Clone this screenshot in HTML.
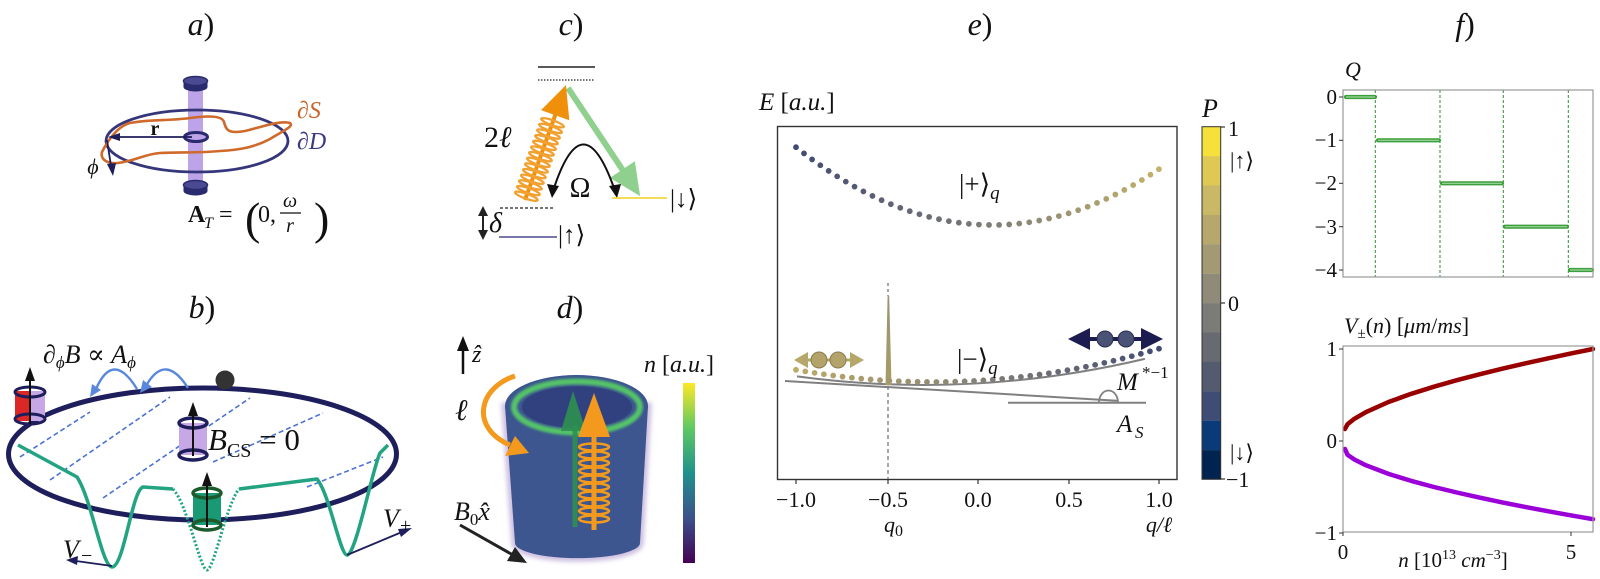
<!DOCTYPE html>
<html><head><meta charset="utf-8">
<style>
html,body{margin:0;padding:0;background:#fff;}
svg{display:block;}
text{font-family:"Liberation Serif","DejaVu Serif","DejaVu Sans",serif;fill:#111;}
.i{font-style:italic;}
.b{font-weight:bold;}
</style></head><body>
<svg width="1600" height="579" viewBox="0 0 1600 579" xmlns="http://www.w3.org/2000/svg">
<defs>
  <linearGradient id="gu" gradientUnits="userSpaceOnUse" x1="796" y1="0" x2="1159" y2="0">
    <stop offset="0" stop-color="#434b72"/>
    <stop offset="0.54" stop-color="#7e7d78"/>
    <stop offset="1" stop-color="#c3b26a"/>
  </linearGradient>
  <linearGradient id="gl" gradientUnits="userSpaceOnUse" x1="796" y1="0" x2="1159" y2="0">
    <stop offset="0" stop-color="#bcab68"/>
    <stop offset="0.5" stop-color="#858278"/>
    <stop offset="1" stop-color="#434b73"/>
  </linearGradient>
  <linearGradient id="vir" x1="0" y1="1" x2="0" y2="0">
    <stop offset="0" stop-color="#440154"/>
    <stop offset="0.25" stop-color="#3b528b"/>
    <stop offset="0.5" stop-color="#21918c"/>
    <stop offset="0.75" stop-color="#5ec962"/>
    <stop offset="1" stop-color="#fde725"/>
  </linearGradient>
  <linearGradient id="spk" x1="0" y1="0" x2="0" y2="1">
    <stop offset="0" stop-color="#9a9478"/>
    <stop offset="1" stop-color="#a89c62"/>
  </linearGradient>
  <filter id="blur" x="-20%" y="-20%" width="140%" height="140%"><feGaussianBlur stdDeviation="2.5"/></filter>
  <filter id="blur1" x="-20%" y="-20%" width="140%" height="140%"><feGaussianBlur stdDeviation="1.2"/></filter>
</defs>

<!-- ================= Panel a ================= -->
<text x="201" y="35" font-size="32" text-anchor="middle"><tspan class="i">a</tspan>)</text>
<rect x="188" y="84" width="15" height="102" fill="#bda4e8"/>
<ellipse cx="197" cy="141" rx="91" ry="31" fill="none" stroke="#35357a" stroke-width="2.8"/>
<path d="M102,152 C108,140 118,126 130,123 C150,119 170,121 190,118 C205,116 222,115 224,122 C226,130 228,134 245,131 C262,127 280,120 290,123 C294,126 285,130 270,139 C255,147 240,150 220,151 C200,153 180,152 160,153 C145,154 135,161 118,163 C108,164 100,160 102,152 Z" fill="none" stroke="#cf6a2a" stroke-width="2.6"/>
<ellipse cx="195.5" cy="87" rx="12" ry="4.5" fill="#2a2a6e"/>
<rect x="183.5" y="81" width="24" height="6" fill="#2a2a6e"/>
<ellipse cx="195.5" cy="81" rx="12" ry="4.5" fill="#4a4a92" stroke="#2a2a6e" stroke-width="1.5"/>
<ellipse cx="196" cy="137" rx="11.5" ry="4.5" fill="#bda4e8" stroke="#2a2a6e" stroke-width="3"/>
<ellipse cx="195.5" cy="191" rx="12" ry="4.5" fill="#2a2a6e"/>
<rect x="183.5" y="185" width="24" height="6" fill="#2a2a6e"/>
<ellipse cx="195.5" cy="185" rx="12" ry="4.5" fill="#4a4a92" stroke="#2a2a6e" stroke-width="1.5"/>
<line x1="192" y1="137" x2="118" y2="137" stroke="#1e1e5c" stroke-width="1.8"/>
<polygon points="108,137 120,133 120,141" fill="#1e1e5c"/>
<text x="155" y="135" font-size="20" class="b" text-anchor="middle">r</text>
<line x1="107" y1="140" x2="111" y2="166" stroke="#1e1e5c" stroke-width="1.8"/>
<polygon points="113,176 107,164 116,163" fill="#1e1e5c"/>
<text x="93" y="174" font-size="22" class="i" text-anchor="middle">ϕ</text>
<text x="297" y="118" font-size="24" style="fill:#c8652a">∂<tspan class="i">S</tspan></text>
<text x="297" y="149" font-size="24" style="fill:#3a3a80">∂<tspan class="i">D</tspan></text>
<text x="188" y="222" font-size="24" class="b">A</text>
<text x="204" y="228" font-size="16" class="i">T</text>
<text x="219" y="222" font-size="24">=</text>
<text x="245" y="234" font-size="46">(</text>
<text x="258" y="222" font-size="24">0,</text>
<text x="290" y="207" font-size="20" class="i" text-anchor="middle">ω</text>
<line x1="280" y1="213" x2="301" y2="213" stroke="#111" stroke-width="1.2"/>
<text x="290" y="232" font-size="20" class="i" text-anchor="middle">r</text>
<text x="314" y="234" font-size="46">)</text>

<!-- ================= Panel b ================= -->
<text x="202" y="318" font-size="32" text-anchor="middle"><tspan class="i">b</tspan>)</text>
<g stroke="#4a72d4" stroke-width="1.6" stroke-dasharray="5,3" fill="none">
  <line x1="20" y1="457" x2="90" y2="412"/>
  <line x1="50" y1="480" x2="170" y2="397"/>
  <line x1="103" y1="498" x2="250" y2="398"/>
  <line x1="213" y1="462" x2="323" y2="413"/>
  <line x1="307" y1="487" x2="383" y2="457"/>
</g>
<ellipse cx="202.5" cy="454" rx="194" ry="66" fill="none" stroke="#1e1e5c" stroke-width="5"/>
<path d="M18,445 L77,477 C92,500 102,567 112,567 C124,567 132,490 143,487 L173,489" fill="none" stroke="#22a382" stroke-width="3.5" stroke-linejoin="round"/>
<path d="M173,489 C188,505 200,570 207,570 C214,570 226,505 239,489" fill="none" stroke="#22a382" stroke-width="3" stroke-dasharray="2,2"/>
<path d="M239,489 L317,479 C330,495 340,555 347,555 C356,555 372,470 380,453 L388,445" fill="none" stroke="#22a382" stroke-width="3.5" stroke-linejoin="round"/>
<line x1="112" y1="566" x2="76" y2="561" stroke="#1e1e5c" stroke-width="1.8"/>
<polygon points="66,560 78,556 77,565" fill="#1e1e5c"/>
<line x1="347" y1="555" x2="402" y2="532" stroke="#1e1e5c" stroke-width="1.8"/>
<polygon points="412,528 401,537 398,529" fill="#1e1e5c"/>
<text x="63" y="558" font-size="26" class="i">V</text><text x="81" y="562" font-size="20">−</text>
<text x="383" y="527" font-size="26" class="i">V</text><text x="400" y="532" font-size="20">+</text>
<path d="M188,388 Q165,352 146,386" fill="none" stroke="#5a88dc" stroke-width="2.4"/>
<polygon points="140,393 143,380 152,387" fill="#5a88dc"/>
<path d="M137,389 Q113,350 96,389" fill="none" stroke="#5a88dc" stroke-width="2.4"/>
<polygon points="90,397 92,384 101,390" fill="#5a88dc"/>
<circle cx="225" cy="380" r="9.5" fill="#333"/>
<text x="43" y="363" font-size="26">∂<tspan class="i" font-size="17" dy="5">ϕ</tspan><tspan class="i" dy="-5">B</tspan> ∝ <tspan class="i">A</tspan><tspan class="i" font-size="17" dy="5">ϕ</tspan></text>
<rect x="15" y="391" width="15" height="30" fill="#dd2626"/>
<rect x="30" y="391" width="15" height="30" fill="#c6a8e6"/>
<ellipse cx="30" cy="392" rx="15" ry="5" fill="none" stroke="#1e1e5c" stroke-width="3"/>
<ellipse cx="30" cy="419" rx="15" ry="5" fill="none" stroke="#1e1e5c" stroke-width="3"/>
<line x1="30" y1="424" x2="30" y2="378" stroke="#111" stroke-width="2"/>
<polygon points="30,367 25,381 35,381" fill="#111"/>
<rect x="179" y="423" width="28" height="32" fill="#c6a8e6"/>
<ellipse cx="193" cy="423" rx="14" ry="5" fill="none" stroke="#1e1e5c" stroke-width="3.5"/>
<ellipse cx="193" cy="455" rx="14" ry="5" fill="none" stroke="#1e1e5c" stroke-width="3.5"/>
<line x1="193" y1="456" x2="193" y2="414" stroke="#111" stroke-width="2"/>
<polygon points="193,402 188,416 198,416" fill="#111"/>
<text x="208" y="450" font-size="31"><tspan class="i">B</tspan><tspan font-size="20" dy="7">CS</tspan><tspan dy="-7"> = 0</tspan></text>
<rect x="193" y="493" width="28" height="32" fill="#1a9a74"/>
<ellipse cx="207" cy="493" rx="14" ry="5" fill="none" stroke="#1d5a2c" stroke-width="3.5"/>
<ellipse cx="207" cy="525" rx="14" ry="5" fill="none" stroke="#1d5a2c" stroke-width="3.5"/>
<line x1="207" y1="527" x2="207" y2="484" stroke="#111" stroke-width="2"/>
<polygon points="207,472 202,486 212,486" fill="#111"/>

<!-- ================= Panel c ================= -->
<text x="571" y="35" font-size="32" text-anchor="middle"><tspan class="i">c</tspan>)</text>
<line x1="538" y1="67" x2="595" y2="67" stroke="#222" stroke-width="1.5"/>
<line x1="538" y1="80" x2="595" y2="80" stroke="#222" stroke-width="1.3" stroke-dasharray="1.5,1.5"/>
<g transform="translate(568,88) rotate(56.3)">
  <line x1="0" y1="0" x2="102" y2="0" stroke="#8fd08f" stroke-width="6"/>
  <polygon points="98,-15 130,0 98,15" fill="#8fd08f"/>
</g>
<g transform="translate(525,200) rotate(-70.4)">
  <line x1="0" y1="0" x2="96" y2="0" stroke="#f0900a" stroke-width="4"/>
  <polygon points="90,-15 122,0 90,15" fill="#f0900a"/>
  <g fill="none" stroke="#f2a030" stroke-width="2.3">
    <ellipse cx="4" cy="0" rx="2.5" ry="12"/><ellipse cx="10" cy="0" rx="2.5" ry="12"/>
    <ellipse cx="16" cy="0" rx="2.5" ry="12"/><ellipse cx="22" cy="0" rx="2.5" ry="12"/>
    <ellipse cx="28" cy="0" rx="2.5" ry="12"/><ellipse cx="34" cy="0" rx="2.5" ry="12"/>
    <ellipse cx="40" cy="0" rx="2.5" ry="12"/><ellipse cx="46" cy="0" rx="2.5" ry="12"/>
    <ellipse cx="52" cy="0" rx="2.5" ry="12"/><ellipse cx="58" cy="0" rx="2.5" ry="12"/>
    <ellipse cx="64" cy="0" rx="2.5" ry="12"/><ellipse cx="70" cy="0" rx="2.5" ry="12"/>
    <ellipse cx="76" cy="0" rx="2.5" ry="12"/><ellipse cx="82" cy="0" rx="2.5" ry="12"/>
  </g>
</g>
<path d="M554,188 Q583,101 614,188" fill="none" stroke="#111" stroke-width="2"/>
<polygon points="552,198 547,184 559,186" fill="#111"/>
<polygon points="617,198 609,186 621,184" fill="#111"/>
<text x="580" y="197" font-size="28" text-anchor="middle">Ω</text>
<text x="484" y="147" font-size="30">2<tspan class="i">ℓ</tspan></text>
<line x1="500" y1="208" x2="555" y2="208" stroke="#222" stroke-width="1.3" stroke-dasharray="3,2"/>
<line x1="612" y1="198" x2="667" y2="198" stroke="#f0d020" stroke-width="1.6"/>
<line x1="499" y1="237" x2="557" y2="237" stroke="#4a4a90" stroke-width="1.5"/>
<text x="670" y="207" font-size="25">|↓⟩</text>
<text x="558" y="243" font-size="25">|↑⟩</text>
<line x1="483" y1="214" x2="483" y2="232" stroke="#222" stroke-width="2"/>
<polygon points="483,206 478,216 488,216" fill="#222"/>
<polygon points="483,240 478,230 488,230" fill="#222"/>
<text x="489" y="232" font-size="28" class="i">δ</text>

<!-- ================= Panel d ================= -->
<text x="570" y="318" font-size="32" text-anchor="middle"><tspan class="i">d</tspan>)</text>
<path d="M505,406 L515,543 A62,15 0 0 0 640,543 L648,406 Z" fill="none" stroke="#9a7ac0" stroke-width="7" opacity="0.5" filter="url(#blur)"/>
<path d="M505,406 L515,543 A62,15 0 0 0 640,543 L648,406 Z" fill="#3d5690"/>
<ellipse cx="576.5" cy="406" rx="71.5" ry="31" fill="#3b5590"/>
<ellipse cx="577" cy="407" rx="55" ry="21" fill="#31417f"/>
<ellipse cx="577" cy="407" rx="63" ry="25.5" fill="none" stroke="#55c468" stroke-width="6" filter="url(#blur1)"/>
<line x1="575" y1="527" x2="575" y2="425" stroke="#2e9050" stroke-width="5" opacity="0.9"/>
<polygon points="573,391 561,431 586,431" fill="#2e9050" opacity="0.9"/>
<line x1="594" y1="530" x2="594" y2="430" stroke="#f39a1e" stroke-width="5"/>
<polygon points="594,393 578,437 610,437" fill="#f39a1e"/>
<g fill="none" stroke="#f39a1e" stroke-width="2.5">
  <ellipse cx="594" cy="447" rx="15" ry="3.5"/><ellipse cx="594" cy="455" rx="15" ry="3.5"/>
  <ellipse cx="594" cy="463" rx="15" ry="3.5"/><ellipse cx="594" cy="471" rx="15" ry="3.5"/>
  <ellipse cx="594" cy="479" rx="15" ry="3.5"/><ellipse cx="594" cy="487" rx="15" ry="3.5"/>
  <ellipse cx="594" cy="495" rx="15" ry="3.5"/><ellipse cx="594" cy="503" rx="15" ry="3.5"/>
  <ellipse cx="594" cy="511" rx="15" ry="3.5"/><ellipse cx="594" cy="519" rx="15" ry="3.5"/>
</g>
<line x1="463" y1="374" x2="463" y2="348" stroke="#111" stroke-width="2.5"/>
<polygon points="463,336 457,351 469,351" fill="#111"/>
<text x="472" y="362" font-size="24" class="i">ẑ</text>
<path d="M515,376 C478,388 470,428 510,445" fill="none" stroke="#f39a1e" stroke-width="5"/>
<polygon points="529,453 505,456 515,436" fill="#f39a1e"/>
<text x="455" y="420" font-size="30" class="i">ℓ</text>
<line x1="460" y1="525" x2="513" y2="555" stroke="#222" stroke-width="3"/>
<polygon points="527,563 507,561 515,547" fill="#222"/>
<text x="454" y="520" font-size="26"><tspan class="i">B</tspan><tspan font-size="17" dy="5">0</tspan><tspan class="i" dy="-5">x̂</tspan></text>
<rect x="683" y="383" width="12" height="180" fill="url(#vir)"/>
<text x="644" y="372" font-size="24"><tspan class="i">n</tspan> [<tspan class="i">a.u.</tspan>]</text>

<!-- ================= Panel e ================= -->
<text x="980" y="35" font-size="32" text-anchor="middle"><tspan class="i">e</tspan>)</text>
<text x="759" y="110" font-size="25"><tspan class="i">E</tspan> [<tspan class="i">a.u.</tspan>]</text>
<rect x="777.5" y="126.5" width="399.5" height="353" fill="none" stroke="#333" stroke-width="1.4"/>
<line x1="888" y1="283" x2="888" y2="296" stroke="#777" stroke-width="1.3" stroke-dasharray="3,3"/>
<line x1="888" y1="386" x2="888" y2="479" stroke="#777" stroke-width="1.3" stroke-dasharray="4,3"/>
<line x1="785" y1="381" x2="1117" y2="400.7" stroke="#808080" stroke-width="2"/>
<line x1="1008" y1="402.7" x2="1146" y2="402.7" stroke="#808080" stroke-width="2"/>
<path d="M1099,402.5 A9.5,12 0 0 1 1118,402.5" fill="none" stroke="#808080" stroke-width="1.8"/>
<path d="M797,376.4 Q971,399.9 1145,358.8" fill="none" stroke="#808080" stroke-width="2"/>
<polygon points="887.6,296 889.2,296 891.5,385 885.5,385" fill="url(#spk)"/>
<path d="M796,147.2 Q977.5,290.9 1159,169.1" fill="none" stroke="url(#gu)" stroke-width="5.8" stroke-linecap="round" stroke-dasharray="0 1" pathLength="39"/>
<path d="M796,369.8 Q977.5,402.1 1159,348.7" fill="none" stroke="url(#gl)" stroke-width="5.8" stroke-linecap="round" stroke-dasharray="0 1" pathLength="39"/>
<line x1="800" y1="360" x2="858" y2="360" stroke="#b5a66a" stroke-width="3"/>
<polygon points="794,360 808,352 808,368" fill="#b5a66a"/>
<polygon points="864,360 850,352 850,368" fill="#b5a66a"/>
<circle cx="819" cy="360" r="8" fill="#b3a36a" stroke="#8a7d50" stroke-width="1"/>
<circle cx="838" cy="360" r="8" fill="#b3a36a" stroke="#8a7d50" stroke-width="1"/>
<line x1="1080" y1="339" x2="1150" y2="339" stroke="#1c1c50" stroke-width="4"/>
<polygon points="1068,339 1090,328 1090,350" fill="#1c1c50"/>
<polygon points="1163,339 1141,328 1141,350" fill="#1c1c50"/>
<circle cx="1105" cy="339" r="8" fill="#4a5275" stroke="#2a2d50" stroke-width="1"/>
<circle cx="1126" cy="339" r="8" fill="#4a5275" stroke="#2a2d50" stroke-width="1"/>
<text x="959" y="193" font-size="27">|+⟩<tspan class="i" font-size="19" dy="6">q</tspan></text>
<text x="957" y="368" font-size="27">|−⟩<tspan class="i" font-size="19" dy="6">q</tspan></text>
<text x="1117" y="390" font-size="25" class="i">M</text><text x="1142" y="378" font-size="17">*−1</text>
<text x="1117" y="432" font-size="25" class="i">A</text><text x="1135" y="438" font-size="17" class="i">S</text>
<g stroke="#333" stroke-width="1.2">
  <line x1="796" y1="479.5" x2="796" y2="484"/><line x1="888" y1="479.5" x2="888" y2="484"/>
  <line x1="978" y1="479.5" x2="978" y2="484"/><line x1="1069" y1="479.5" x2="1069" y2="484"/>
  <line x1="1159" y1="479.5" x2="1159" y2="484"/>
</g>
<g font-size="22" text-anchor="middle">
  <text x="796" y="507">−1.0</text><text x="888" y="507">−0.5</text>
  <text x="978" y="507">0.0</text><text x="1069" y="507">0.5</text>
  <text x="1159" y="507">1.0</text>
</g>
<text x="884" y="532" font-size="22" class="i">q<tspan font-style="normal" font-size="16" dy="4">0</tspan></text>
<text x="1159" y="532" font-size="22" class="i" text-anchor="middle">q/ℓ</text>

<!-- colorbar -->
<g>
  <rect x="1202" y="126.7" width="18.7" height="29.5" fill="#f6e03a"/>
  <rect x="1202" y="156.1" width="18.7" height="29.5" fill="#ddc954"/>
  <rect x="1202" y="185.5" width="18.7" height="29.5" fill="#c9b865"/>
  <rect x="1202" y="214.9" width="18.7" height="29.5" fill="#b6a86d"/>
  <rect x="1202" y="244.3" width="18.7" height="29.5" fill="#a39a74"/>
  <rect x="1202" y="273.7" width="18.7" height="29.5" fill="#8f8b78"/>
  <rect x="1202" y="303.1" width="18.7" height="29.5" fill="#7b7b78"/>
  <rect x="1202" y="332.5" width="18.7" height="29.5" fill="#686a71"/>
  <rect x="1202" y="361.9" width="18.7" height="29.5" fill="#545b6f"/>
  <rect x="1202" y="391.3" width="18.7" height="29.5" fill="#3f4c74"/>
  <rect x="1202" y="420.7" width="18.7" height="29.5" fill="#0b3a78"/>
  <rect x="1202" y="450.1" width="18.7" height="29.2" fill="#00244f"/>
  <rect x="1202" y="126.7" width="18.7" height="352.6" fill="none" stroke="#333" stroke-width="1"/>
  <g stroke="#333" stroke-width="1.2">
    <line x1="1220.7" y1="127" x2="1225" y2="127"/>
    <line x1="1220.7" y1="303" x2="1225" y2="303"/>
    <line x1="1220.7" y1="479" x2="1225" y2="479"/>
  </g>
</g>
<text x="1210" y="117" font-size="26" class="i" text-anchor="middle">P</text>
<text x="1228" y="136" font-size="22">1</text>
<text x="1230" y="168" font-size="22">|↑⟩</text>
<text x="1228" y="311" font-size="22">0</text>
<text x="1230" y="460" font-size="22">|↓⟩</text>
<text x="1226" y="487" font-size="22">−1</text>

<!-- ================= Panel f ================= -->
<text x="1465" y="35" font-size="32" text-anchor="middle"><tspan class="i">f</tspan>)</text>
<text x="1353" y="77" font-size="22" class="i" text-anchor="middle">Q</text>
<g stroke="#2f8f2f" stroke-width="1" stroke-dasharray="3,2">
  <line x1="1375.3" y1="90" x2="1375.3" y2="277"/>
  <line x1="1440" y1="90" x2="1440" y2="277"/>
  <line x1="1503.3" y1="90" x2="1503.3" y2="277"/>
  <line x1="1568.3" y1="90" x2="1568.3" y2="277"/>
</g>
<g stroke="#3c9e3c" stroke-width="4.2" stroke-linecap="round">
  <line x1="1346" y1="97" x2="1375" y2="97"/>
  <line x1="1378" y1="140.3" x2="1439" y2="140.3"/>
  <line x1="1442" y1="183.3" x2="1502" y2="183.3"/>
  <line x1="1505" y1="226.7" x2="1567" y2="226.7"/>
  <line x1="1570" y1="270" x2="1592" y2="270"/>
</g>
<g stroke="#9fd89f" stroke-width="1.2">
  <line x1="1346" y1="97" x2="1375" y2="97"/>
  <line x1="1378" y1="140.3" x2="1439" y2="140.3"/>
  <line x1="1442" y1="183.3" x2="1502" y2="183.3"/>
  <line x1="1505" y1="226.7" x2="1567" y2="226.7"/>
  <line x1="1570" y1="270" x2="1592" y2="270"/>
</g>
<rect x="1343" y="90" width="250" height="187" fill="none" stroke="#999" stroke-width="1.2"/>
<g stroke="#333" stroke-width="1">
  <line x1="1339" y1="97" x2="1343" y2="97"/><line x1="1339" y1="140.3" x2="1343" y2="140.3"/>
  <line x1="1339" y1="183.3" x2="1343" y2="183.3"/><line x1="1339" y1="226.7" x2="1343" y2="226.7"/>
  <line x1="1339" y1="270" x2="1343" y2="270"/>
</g>
<g font-size="21" text-anchor="end">
  <text x="1337" y="104">0</text><text x="1337" y="147">−1</text>
  <text x="1337" y="190">−2</text><text x="1337" y="234">−3</text>
  <text x="1337" y="277">−4</text>
</g>

<!-- f bottom -->
<text x="1344" y="333" font-size="22"><tspan class="i">V</tspan><tspan font-size="15" dy="5">±</tspan><tspan dy="-5">(</tspan><tspan class="i">n</tspan>) [<tspan class="i">μm</tspan>/<tspan class="i">ms</tspan>]</text>
<path d="M1345,429 L1347.5,424.3 L1354.4,418.8 L1365.8,412.2 L1388.5,402.0 L1411.3,393.8 L1434,386.7 L1456.8,380.2 L1479.5,374.3 L1502.3,368.7 L1525,363.4 L1547.8,358.4 L1570.5,353.6 L1593,349" fill="none" stroke="#990000" stroke-width="4.5" stroke-linejoin="round" stroke-linecap="round"/>
<path d="M1345,449 L1347.5,454.8 L1354.4,459.5 L1365.8,465.2 L1388.5,473.9 L1411.3,480.9 L1434,487.0 L1456.8,492.5 L1479.5,497.6 L1502.3,502.4 L1525,506.9 L1547.8,511.2 L1570.5,515.3 L1593,519.2" fill="none" stroke="#9b00d8" stroke-width="4.5" stroke-linejoin="round" stroke-linecap="round"/>
<rect x="1343" y="346" width="250" height="186" fill="none" stroke="#999" stroke-width="1.2"/>
<g stroke="#333" stroke-width="1">
  <line x1="1339" y1="349" x2="1343" y2="349"/><line x1="1339" y1="441" x2="1343" y2="441"/>
  <line x1="1339" y1="533" x2="1343" y2="533"/>
  <line x1="1343" y1="532" x2="1343" y2="536"/><line x1="1571" y1="532" x2="1571" y2="536"/>
</g>
<g font-size="21" text-anchor="end">
  <text x="1337" y="356">1</text><text x="1337" y="448">0</text><text x="1337" y="540">−1</text>
</g>
<text x="1343" y="559" font-size="21" text-anchor="middle">0</text>
<text x="1571" y="559" font-size="21" text-anchor="middle">5</text>
<text x="1453" y="567" font-size="21" text-anchor="middle"><tspan class="i">n</tspan> [10<tspan font-size="14" dy="-8">13</tspan><tspan dy="8"> </tspan><tspan class="i">cm</tspan><tspan font-size="14" dy="-8">−3</tspan><tspan dy="8">]</tspan></text>
</svg>
</body></html>
